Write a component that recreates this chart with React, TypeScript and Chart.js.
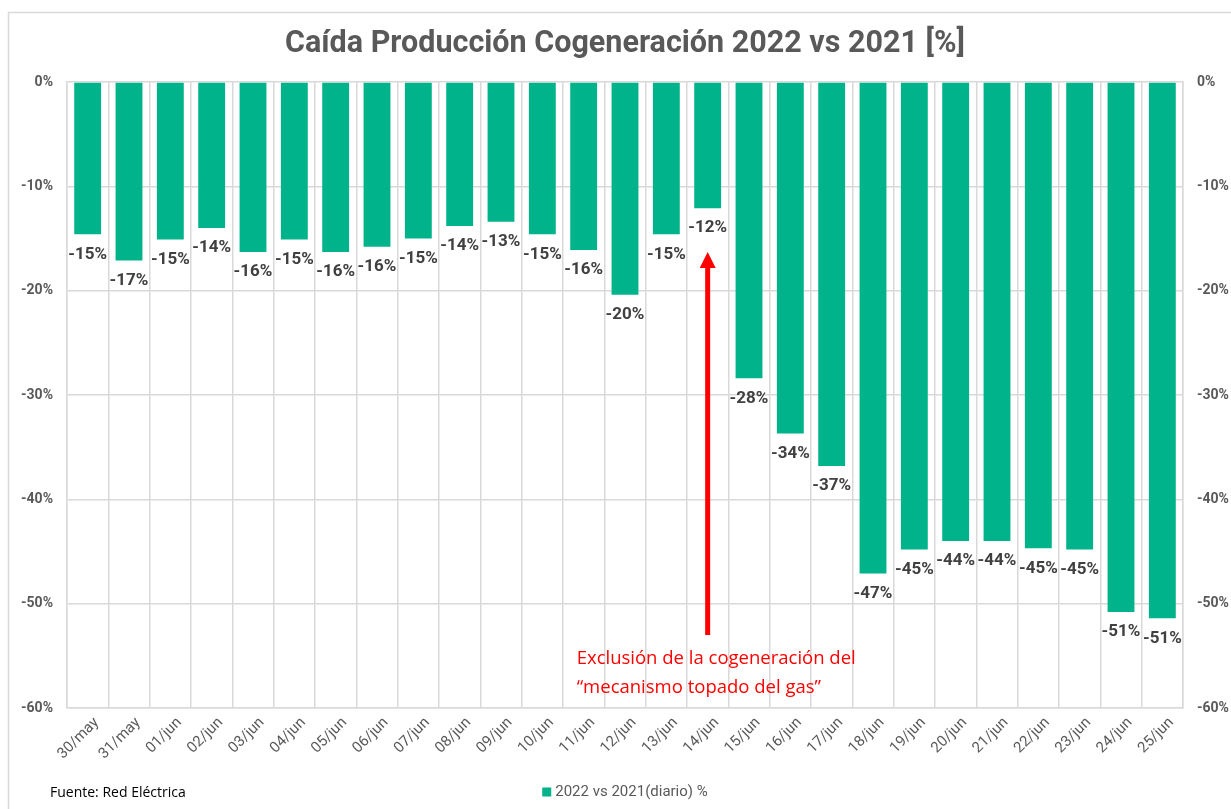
import React, { useEffect, useRef } from "react";
import { Chart, registerables } from "chart.js";

Chart.register(...registerables);

const categories = [
  "30/may", "31/may", "01/jun", "02/jun", "03/jun", "04/jun", "05/jun", "06/jun", "07/jun",
  "08/jun", "09/jun", "10/jun", "11/jun", "12/jun", "13/jun", "14/jun", "15/jun", "16/jun",
  "17/jun", "18/jun", "19/jun", "20/jun", "21/jun", "22/jun", "23/jun", "24/jun", "25/jun",
];

const dropValues = [
  -14.6, -17.1, -15.1, -14.0, -16.3, -15.1, -16.3, -15.8, -15.0,
  -13.8, -13.4, -14.6, -16.1, -20.4, -14.6, -12.1, -28.4, -33.7,
  -36.8, -47.1, -44.8, -44.0, -44.0, -44.7, -44.8, -50.8, -51.4,
];

const yTicks = [0, -10, -20, -30, -40, -50, -60];

const titleText = "Caída Producción Cogeneración 2022 vs 2021 [%]";
const seriesLabel = "2022 vs 2021(diario) %";
const sourceText = "Fuente: Red Eléctrica";
const noteLines = ["Exclusión de la cogeneración del", "“mecanismo topado del gas”"];
const noteCategory = "14/jun";
const arrowTipValue = -16.3;
const arrowBaseValue = -53.0;
const noteLineValues = [-55.3, -58.1];

const GREEN = "#00B38A";
const GRID = "#d9d9d9";
const AXIS_TEXT = "#595959";
const LABEL_TEXT = "#404040";

const fmt = (v: number) => `${Math.round(v)}%`;

const framePlugin = {
  id: "frame",
  beforeDraw(chart: any) {
    const ctx = chart.ctx;
    ctx.save();
    ctx.fillStyle = "#ffffff";
    ctx.fillRect(0, 0, chart.width, chart.height);
    ctx.strokeStyle = GRID;
    ctx.lineWidth = 1.5;
    ctx.strokeRect(8.5, 12.5, chart.width + 20, chart.height + 20);
    ctx.restore();
  },
};

const labelsPlugin = {
  id: "barLabels",
  afterDatasetsDraw(chart: any) {
    const ctx = chart.ctx;
    const meta = chart.getDatasetMeta(0);
    const data = chart.data.datasets[0].data as number[];
    ctx.save();
    ctx.font = "bold 17px Roboto";
    ctx.fillStyle = LABEL_TEXT;
    ctx.textAlign = "center";
    ctx.textBaseline = "middle";
    meta.data.forEach((bar: any, i: number) => {
      ctx.fillText(fmt(data[i]), bar.x, bar.y + 20);
    });
    ctx.restore();
  },
};

const decorPlugin = {
  id: "decor",
  afterDraw(chart: any) {
    const ctx = chart.ctx;
    const xs = chart.scales.x;
    const ys = chart.scales.y;
    const area = chart.chartArea;
    const cx = (area.left + area.right) / 2;
    ctx.save();

    // title centred over the plot area
    ctx.font = "bold 30.5px Roboto";
    ctx.fillStyle = AXIS_TEXT;
    ctx.textAlign = "center";
    ctx.textBaseline = "middle";
    ctx.fillText(titleText, cx, 44);

    // legend centred over the plot area
    ctx.font = "15px Roboto";
    const tw = ctx.measureText(seriesLabel).width;
    const box = 9;
    const gap = 4;
    const total = box + gap + tw;
    const lx = cx - total / 2;
    const ly = 792;
    ctx.fillStyle = GREEN;
    ctx.fillRect(lx, ly - box / 2, box, box);
    ctx.fillStyle = AXIS_TEXT;
    ctx.textAlign = "left";
    ctx.fillText(seriesLabel, lx + box + gap, ly);

    // annotation arrow + text
    const ax = xs.getPixelForValue(categories.indexOf(noteCategory));
    const tipY = ys.getPixelForValue(arrowTipValue);
    const baseY = ys.getPixelForValue(arrowBaseValue);
    ctx.strokeStyle = "#ff0000";
    ctx.fillStyle = "#ff0000";
    ctx.lineWidth = 5;
    ctx.beginPath();
    ctx.moveTo(ax, baseY);
    ctx.lineTo(ax, tipY + 14);
    ctx.stroke();
    ctx.beginPath();
    ctx.moveTo(ax, tipY);
    ctx.lineTo(ax - 8, tipY + 16);
    ctx.lineTo(ax + 8, tipY + 16);
    ctx.closePath();
    ctx.fill();
    ctx.font = "18.5px 'Open Sans'";
    ctx.textAlign = "left";
    ctx.textBaseline = "middle";
    noteLines.forEach((line, i) => {
      ctx.fillText(line, ax - 131, ys.getPixelForValue(noteLineValues[i]));
    });

    // source
    ctx.font = "14px 'Open Sans'";
    ctx.fillStyle = "#000000";
    ctx.fillText(sourceText, 50, 793);
    ctx.restore();
  },
};

export default function App() {
  const ref = useRef<HTMLCanvasElement | null>(null);

  useEffect(() => {
    if (!ref.current) return;
    const tickFont = { family: "Roboto", size: 14, weight: "bold" as const };
    const chart = new Chart(ref.current, {
      type: "bar",
      data: {
        labels: categories,
        datasets: [
          {
            label: seriesLabel,
            data: dropValues,
            backgroundColor: GREEN,
            borderWidth: 0,
            barPercentage: 0.65,
            categoryPercentage: 1,
          },
        ],
      },
      options: {
        animation: false,
        responsive: true,
        maintainAspectRatio: false,
        layout: { padding: { top: 82, left: 0, right: 0, bottom: 37 } },
        plugins: {
          title: { display: false },
          legend: { display: false },
          tooltip: { enabled: false },
        },
        scales: {
          x: {
            grid: { color: GRID, lineWidth: 1.5, drawTicks: false, offset: true },
            border: { color: GRID, width: 1.5 },
            ticks: {
              color: AXIS_TEXT,
              font: { family: "Roboto", size: 15 },
              maxRotation: 45,
              minRotation: 45,
              padding: 6,
              labelOffset: 9,
              autoSkip: false,
            },
            afterFit(scale: any) {
              scale.height = 64;
            },
          },
          y: {
            position: "left",
            min: -60,
            max: 0,
            grid: { color: GRID, lineWidth: 1.5, drawTicks: false },
            border: { color: GRID, width: 1.5 },
            ticks: {
              color: AXIS_TEXT,
              font: tickFont,
              padding: 14,
              stepSize: 10,
              callback: (v: any) => (yTicks.includes(Number(v)) ? `${v}%` : ""),
            },
            afterFit(scale: any) {
              scale.width = 67;
            },
          },
          y2: {
            position: "right",
            min: -60,
            max: 0,
            grid: { drawOnChartArea: false, drawTicks: false },
            border: { color: GRID, width: 1.5 },
            ticks: {
              color: AXIS_TEXT,
              font: tickFont,
              padding: 14,
              stepSize: 10,
              callback: (v: any) => (yTicks.includes(Number(v)) ? `${v}%` : ""),
            },
            afterFit(scale: any) {
              scale.width = 48;
            },
          },
        },
      },
      plugins: [framePlugin, labelsPlugin, decorPlugin],
    });
    return () => chart.destroy();
  }, []);

  return (
    <div style={{ position: "absolute", left: 0, top: 0, width: 1231, height: 809 }}>
      <canvas ref={ref} />
    </div>
  );
}
